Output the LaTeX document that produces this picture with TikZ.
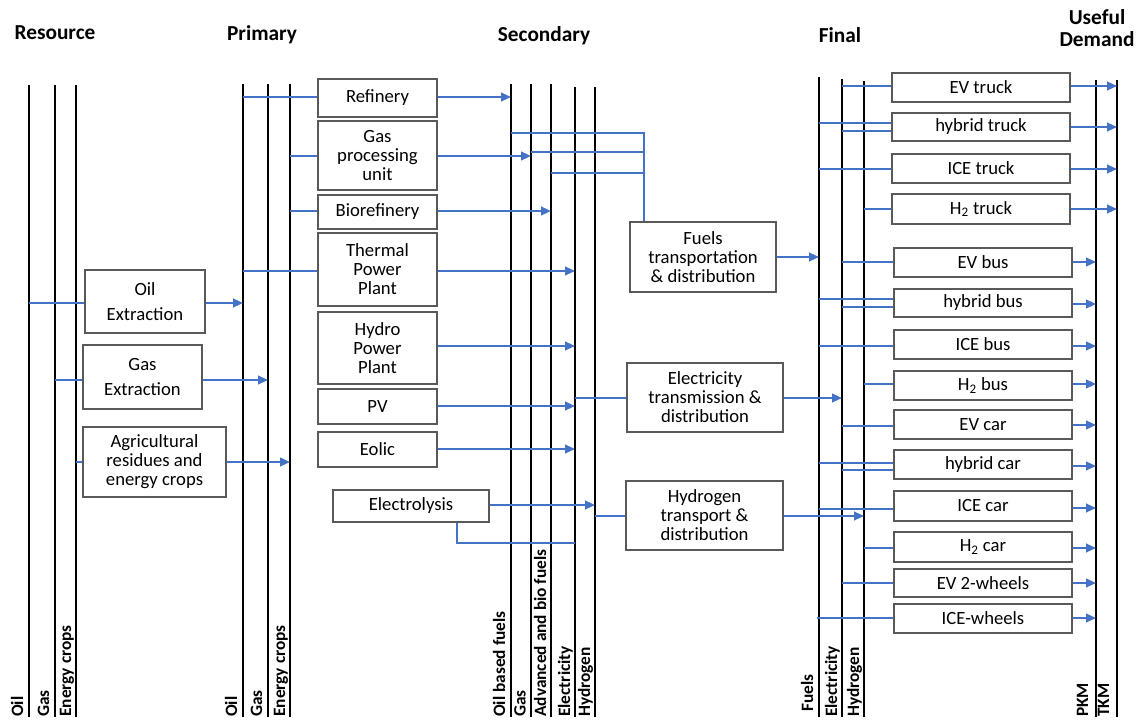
\documentclass[tikz,border=0pt]{standalone}
\usepackage{fontspec}
\setmainfont{Carlito}
\usetikzlibrary{arrows.meta}
\definecolor{flowblue}{HTML}{4472C4}
\definecolor{boxgray}{HTML}{595959}
\begin{document}
\begin{tikzpicture}[x=0.75pt,y=-0.75pt,
  bar/.style={line width=1.5pt,black},
  flow/.style={line width=1.5pt,draw=flowblue},
  arr/.style={flow,-{Triangle[length=7.5pt,width=6.5pt]}},
  bx/.style={draw=boxgray,line width=0.9pt,fill=white,align=center,inner sep=0pt,font=\fontsize{14}{14.3}\selectfont},
  sz/.style 2 args={minimum width=#1*0.75pt,minimum height=#2*0.75pt},
  hdr/.style={font=\fontsize{16}{16}\selectfont\bfseries,align=center},
  lab/.style={font=\fontsize{13}{14}\selectfont\bfseries,rotate=90,anchor=base west,inner sep=0pt},
]
\fill[white] (0,0) rectangle (1137,720);
\useasboundingbox (0,0) rectangle (1137,720);

% headers
\node[hdr] (hRes) at (55,33) {Resource};
\node[hdr] (hPri) at (262,35) {Primary};
\node[hdr] (hSec) at (544,36) {Secondary};
\node[hdr] (hFin) at (840,35) {Final};
\node[hdr] (hUse) at (1097,28) {Useful\\Demand};

% vertical carriers
\foreach \n/\x/\t in {rO/29/85, rG/55/85, rE/76/85,
                      pO/243/84, pG/268/84, pE/290/84,
                      sO/511/84, sG/531/84, sA/551/84, sE/575/87, sH/595/87,
                      fF/819/77, fE/842/79, fH/864/81,
                      uP/1096/80, uT/1117/80}{
  \coordinate (\n) at (\x,\t);
  \coordinate (\n-b) at (\x,717);
  \draw[bar] (\n) -- (\n-b);
}

% carrier labels
\node[lab] (lrO) at ([xshift=-6*0.75pt]rO-b) {Oil};
\node[lab] (lrG) at ([xshift=-6*0.75pt]rG-b) {Gas};
\node[lab] (lrE) at ([xshift=-5*0.75pt]rE-b) {Energy crops};
\node[lab] (lpO) at ([xshift=-6*0.75pt]pO-b) {Oil};
\node[lab] (lpG) at ([xshift=-6*0.75pt]pG-b) {Gas};
\node[lab] (lpE) at ([xshift=-5*0.75pt]pE-b) {Energy crops};
\node[lab] (lsO) at ([xshift=-6*0.75pt]sO-b) {Oil based fuels};
\node[lab] (lsG) at ([xshift=-5.5*0.75pt]sG-b) {Gas};
\node[lab] (lsA) at ([xshift=-5*0.75pt]sA-b) {Advanced and bio fuels};
\node[lab] (lsE) at ([xshift=-5*0.75pt]sE-b) {Electricity};
\node[lab] (lsH) at ([xshift=-5*0.75pt]sH-b) {Hydrogen};
\node[lab] (lfF) at ([xshift=-6*0.75pt,yshift=5*0.75pt]fF-b) {Fuels};
\node[lab] (lfE) at ([xshift=-5*0.75pt]fE-b) {Electricity};
\node[lab] (lfH) at ([xshift=-5*0.75pt]fH-b) {Hydrogen};
\node[lab] (luP) at ([xshift=-8*0.75pt]uP-b) {PKM};
\node[lab] (luT) at ([xshift=-8*0.75pt]uT-b) {TKM};

% resource boxes
\node[bx,sz={120}{63}] (oilx) at (145,301.5) {Oil\\[5pt]Extraction};
\node[bx,sz={119}{64}] (gasx) at (142.5,377) {Gas\\[4.5pt]Extraction};
\node[bx,sz={143}{70}] (agri) at (154.5,462) {Agricultural\\residues and\\energy crops};

% conversion boxes
\node[bx,sz={119}{38}] (refi) at (377.5,98) {Refinery};
\node[bx,sz={119}{69}] (gpu) at (377.5,155.5) {Gas\\processing\\unit};
\node[bx,sz={119}{34}] (bior) at (377.5,212) {Biorefinery};
\node[bx,sz={119}{73}] (tpp) at (377.5,269.5) {Thermal\\Power\\Plant};
\node[bx,sz={119}{72}] (hpp) at (377.5,348) {Hydro\\Power\\Plant};
\node[bx,sz={119}{35}] (pv) at (377.5,406.5) {PV};
\node[bx,sz={119}{35}] (eol) at (377.5,449.5) {Eolic};
\node[bx,sz={156}{32}] (elys) at (411,506) {Electrolysis};

% distribution boxes
\node[bx,sz={146}{70}] (ftd) at (703,257) {Fuels\\transportation\\\& distribution};
\node[bx,sz={156}{69}] (etd) at (705,397.5) {Electricity\\transmission \&\\distribution};
\node[bx,sz={157}{69}] (htd) at (704.5,515.5) {Hydrogen\\transport \&\\distribution};

% end-use boxes
\node[bx,sz={178}{29}] (evt) at (981,87.5) {EV truck};
\node[bx,sz={178}{28}] (hyt) at (981,127) {hybrid truck};
\node[bx,sz={178}{29}] (icet) at (981,168.5) {ICE truck};
\node[bx,sz={178}{30}] (h2t) at (981,209) {H\textsubscript{2} truck};
\node[bx,sz={178}{29}] (evb) at (983,262.5) {EV bus};
\node[bx,sz={178}{28}] (hyb) at (983,303) {hybrid bus};
\node[bx,sz={178}{29}] (iceb) at (983,344.5) {ICE bus};
\node[bx,sz={178}{29}] (h2b) at (983,385.5) {H\textsubscript{2} bus};
\node[bx,sz={178}{29}] (evc) at (983,424.5) {EV car};
\node[bx,sz={178}{29}] (hyc) at (983,464.5) {hybrid car};
\node[bx,sz={178}{30}] (icec) at (983,506) {ICE car};
\node[bx,sz={178}{30}] (h2c) at (983,547) {H\textsubscript{2} car};
\node[bx,sz={178}{28}] (ev2w) at (983,583) {EV 2-wheels};
\node[bx,sz={178}{29}] (icew) at (983,618.5) {ICE-wheels};

% resource -> primary
\draw[flow] (rO |- 0,303) -- (oilx.west |- 0,303);
\draw[arr] (oilx.east |- 0,303) -- (pO |- 0,303);
\draw[flow] (rG |- 0,380) -- (gasx.west |- 0,380);
\draw[arr] (gasx.east |- 0,380) -- (pG |- 0,380);
\draw[flow] (rE |- 0,462) -- (agri.west |- 0,462);
\draw[arr] (agri.east |- 0,462) -- (pE |- 0,462);

% primary -> conversion
\draw[flow] (pO |- 0,97) -- (refi.west |- 0,97);
\draw[flow] (pE |- 0,156) -- (gpu.west |- 0,156);
\draw[flow] (pE |- 0,211) -- (bior.west |- 0,211);
\draw[flow] (pO |- 0,271) -- (tpp.west |- 0,271);

% conversion -> secondary
\draw[arr] (refi.east |- 0,97) -- (sO |- 0,97);
\draw[arr] (gpu.east |- 0,156) -- (sG |- 0,156);
\draw[arr] (bior.east |- 0,211) -- (sA |- 0,211);
\draw[arr] (tpp.east |- 0,271) -- (sE |- 0,271);
\draw[arr] (hpp.east |- 0,346) -- (sE |- 0,346);
\draw[arr] (pv.east |- 0,406) -- (sE |- 0,406);
\draw[arr] (eol.east |- 0,449) -- (sE |- 0,449);
\draw[arr] (elys.east |- 0,505) -- (sH |- 0,505);
\draw[flow] (elys.south -| 457,0) |- (sE |- 0,543);

% secondary -> distribution
\draw[flow] (sO |- 0,133) -| (ftd.north -| 644,0);
\draw[flow] (sG |- 0,152) -- (644,152);
\draw[flow] (sA |- 0,173) -- (644,173);
\draw[arr] (ftd.east |- 0,257) -- (fF |- 0,257);
\draw[flow] (sE |- 0,398) -- (etd.west |- 0,398);
\draw[arr] (etd.east |- 0,398) -- (fE |- 0,398);
\draw[flow] (sH |- 0,516) -- (htd.west |- 0,516);
\draw[arr] (htd.east |- 0,516) -- (fH |- 0,516);

% final -> end use
\foreach \c/\b/\y in {fE/evt/86, fF/hyt/123, fE/hyt/131, fF/icet/169, fH/h2t/209,
                      fE/evb/262, fF/hyb/299, fE/hyb/307, fF/iceb/346, fH/h2b/384,
                      fE/evc/426, fF/hyc/463, fE/hyc/470, fF/icec/509, fH/h2c/548,
                      fE/ev2w/583}{
  \draw[flow] (\c |- 0,\y) -- (\b.west |- 0,\y);
}
\draw[flow] ([xshift=-2.5*0.75pt]fF |- 0,618) -- (icew.west |- 0,618);

% end use -> useful demand
\foreach \b/\y in {evt/86, hyt/127, icet/169, h2t/209}{
  \draw[arr] (\b.east |- 0,\y) -- (uT |- 0,\y);
}
\foreach \b/\y in {evb/262, hyb/304, iceb/346, h2b/384, evc/425, hyc/466, icec/508, h2c/548, ev2w/583, icew/618}{
  \draw[arr] (\b.east |- 0,\y) -- (uP |- 0,\y);
}
\end{tikzpicture}
\end{document}
